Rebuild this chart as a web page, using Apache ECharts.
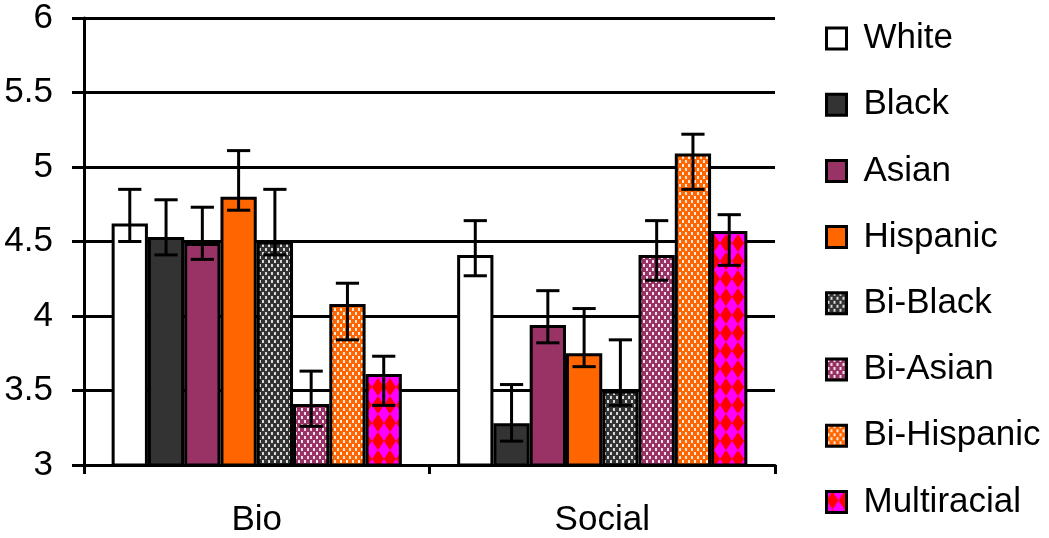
<!DOCTYPE html>
<html>
<head>
<meta charset="utf-8">
<script src="https://cdn.jsdelivr.net/npm/echarts@6/dist/echarts.min.js"></script>
<style>
html,body{margin:0;padding:0;background:#fff;}
#chart{width:1049px;height:538px;}
</style>
</head>
<body>
<div id="chart"></div>
<script>
const categories = ['Bio', 'Social'];
const groups = ['White', 'Black', 'Asian', 'Hispanic', 'Bi-Black', 'Bi-Asian', 'Bi-Hispanic', 'Multiracial'];
const bioMeans    = [4.62, 4.53, 4.49, 4.80, 4.50, 3.41, 4.08, 3.61];
const bioHigh     = [4.85, 4.78, 4.73, 5.11, 4.85, 3.63, 4.22, 3.73];
const bioLow      = [4.50, 4.41, 4.38, 4.71, 4.41, 3.26, 3.84, 3.40];
const socialMeans = [4.41, 3.28, 3.94, 3.75, 3.50, 4.41, 5.09, 4.57];
const socialHigh  = [4.64, 3.54, 4.17, 4.05, 3.84, 4.64, 5.22, 4.68];
const socialLow   = [4.27, 3.16, 3.82, 3.66, 3.40, 4.24, 4.85, 4.34];
const yTicks = [3, 3.5, 4, 4.5, 5, 5.5, 6];

const FONT = "'Liberation Sans', Arial, sans-serif";
const FS = 35;
const CAT_GAP = 0.16;

function dotPattern(bg, dot) {
  const c = document.createElement('canvas');
  c.width = 6; c.height = 8;
  const g = c.getContext('2d');
  g.fillStyle = bg; g.fillRect(0, 0, 6, 8);
  g.fillStyle = dot;
  g.fillRect(1, 0, 2, 3);
  g.fillRect(4, 4, 2, 3);
  return { image: c, repeat: 'repeat' };
}
function harlequin() {
  const w = 12, h = 18;
  const c = document.createElement('canvas');
  c.width = w; c.height = h;
  const g = c.getContext('2d');
  g.fillStyle = '#FF00FF'; g.fillRect(0, 0, w, h);
  g.fillStyle = '#FF0000';
  g.beginPath();
  g.moveTo(w / 2, 0); g.lineTo(w, h / 2); g.lineTo(w / 2, h); g.lineTo(0, h / 2); g.closePath();
  g.fill();
  return { image: c, repeat: 'repeat' };
}

const fills = [
  '#FFFFFF',
  '#333333',
  '#993366',
  '#FF6600',
  dotPattern('#333333', 'rgba(235,235,235,0.9)'),
  dotPattern('#993366', 'rgba(255,255,255,0.85)'),
  dotPattern('#FF6600', 'rgba(255,255,255,0.85)'),
  harlequin()
];

const series = [];
groups.forEach((name, i) => {
  series.push({
    name: name,
    type: 'bar',
    barGap: '0%',
    barCategoryGap: (CAT_GAP * 100) + '%',
    data: [bioMeans[i], socialMeans[i]],
    itemStyle: { color: fills[i], borderColor: '#000', borderWidth: 3 },
    emphasis: { disabled: true },
    z: 2
  });
});
groups.forEach((name, i) => {
  series.push({
    type: 'custom',
    data: [[0, bioLow[i], bioHigh[i]], [1, socialLow[i], socialHigh[i]]],
    encode: { x: 0, y: [1, 2] },
    z: 5,
    silent: true,
    renderItem: function (params, api) {
      const band = api.size([1, 0])[0];
      const groupW = band * (1 - CAT_GAP);
      const barW = groupW / groups.length;
      const base = api.coord([api.value(0), api.value(1)]);
      const top = api.coord([api.value(0), api.value(2)]);
      const cx = base[0] - groupW / 2 + barW * (i + 0.5);
      const half = barW * 0.32;
      const st = { stroke: '#000', lineWidth: 3 };
      return {
        type: 'group',
        children: [
          { type: 'line', shape: { x1: cx, y1: base[1], x2: cx, y2: top[1] }, style: st },
          { type: 'line', shape: { x1: cx - half, y1: base[1], x2: cx + half, y2: base[1] }, style: st },
          { type: 'line', shape: { x1: cx - half, y1: top[1], x2: cx + half, y2: top[1] }, style: st }
        ]
      };
    }
  });
});

const chart = echarts.init(document.getElementById('chart'), null, { renderer: 'canvas' });
chart.setOption({
  animation: false,
  backgroundColor: '#fff',
  textStyle: { fontFamily: FONT },
  grid: { left: 84, right: 274, top: 18, bottom: 73, containLabel: false },
  legend: {
    data: groups,
    orient: 'vertical',
    left: 825,
    top: 21,
    padding: 0,
    itemWidth: 20,
    itemHeight: 21,
    itemGap: 31.2,
    icon: 'rect',
    selectedMode: false,
    itemStyle: { borderColor: '#000', borderWidth: 3 },
    textStyle: { fontFamily: FONT, fontSize: FS, color: '#000', lineHeight: 29, padding: [6, 0, 0, 12] }
  },
  xAxis: {
    type: 'category',
    data: categories,
    axisLine: { lineStyle: { color: '#000', width: 3 } },
    axisTick: { show: true, length: 9, lineStyle: { color: '#000', width: 3 } },
    axisLabel: { color: '#000', fontSize: FS, fontFamily: FONT, margin: 38 },
    splitLine: { show: false }
  },
  yAxis: {
    type: 'value',
    min: yTicks[0],
    max: yTicks[yTicks.length - 1],
    interval: 0.5,
    axisLine: { show: true, lineStyle: { color: '#000', width: 3 } },
    axisTick: { show: true, length: 12, lineStyle: { color: '#000', width: 3 } },
    axisLabel: { color: '#000', fontSize: FS, fontFamily: FONT, margin: 31 },
    splitLine: { show: true, lineStyle: { color: '#000', width: 3 } }
  },
  series: series
});
</script>
</body>
</html>
